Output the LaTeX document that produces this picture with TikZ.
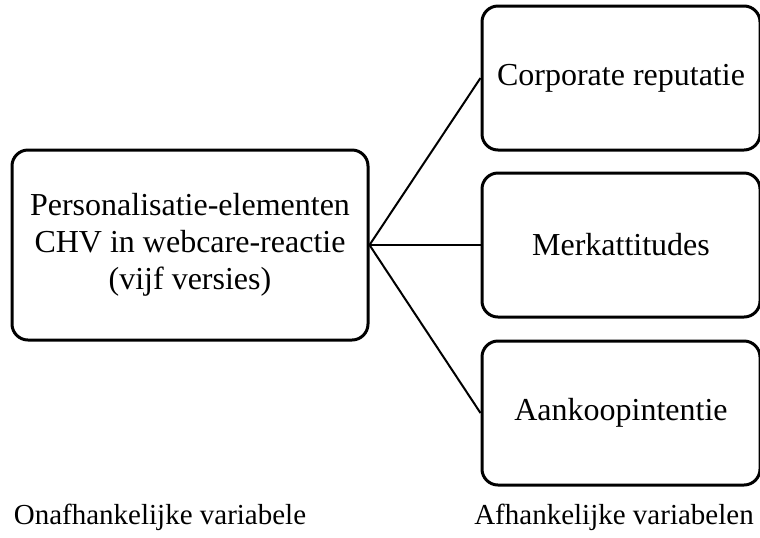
\documentclass[tikz,border=0pt]{standalone}
\usepackage{fontspec}
\setmainfont{Liberation Serif}
\usetikzlibrary{positioning}

\begin{document}
\begin{tikzpicture}[
  x=0.5pt, y=-0.5pt,
  font=\fontsize{16}{18.5}\selectfont,
  leftbox/.style={draw, line width=1.5pt, rounded corners=8pt, minimum width=178pt, minimum height=95pt, align=center, inner sep=0pt},
  rightbox/.style={draw, line width=1.5pt, rounded corners=8pt, minimum width=139pt, minimum height=72pt, inner sep=0pt},
  caption/.style={font=\fontsize{14.5}{17}\selectfont},
  link/.style={line width=1pt}
]
\useasboundingbox (0,0) rectangle (760,537);
\node[leftbox] (pers) at (190,245) {Personalisatie-elementen\\CHV in webcare-reactie\\(vijf versies)};
\node[rightbox] (merk) at (621,245) {Merkattitudes};
\node[rightbox, above=10pt of merk] (corp) {Corporate reputatie};
\node[rightbox, below=10.5pt of merk] (aank) {Aankoopintentie};
\node[caption] (onaf) at (160,517) {Onafhankelijke variabele};
\node[caption] (afh) at (614,517) {Afhankelijke variabelen};
\draw[link] (pers.east) -- (corp.west);
\draw[link] (pers.east) -- (merk.west);
\draw[link] (pers.east) -- (aank.west);
\end{tikzpicture}
\end{document}
